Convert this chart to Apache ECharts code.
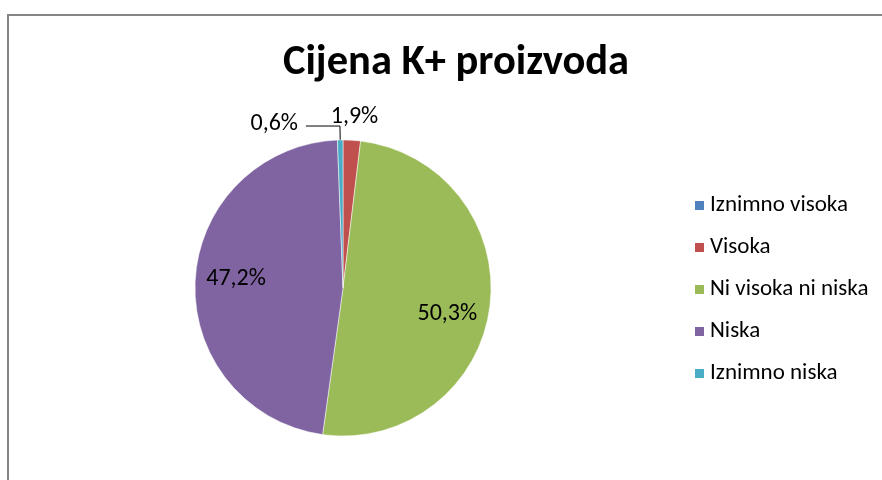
<!DOCTYPE html>
<html>
<head>
<meta charset="utf-8">
<script src="https://cdn.jsdelivr.net/npm/echarts@6/dist/echarts.min.js"></script>
<style>
  html, body { margin: 0; padding: 0; background: #fff; }
  #chart { width: 882px; height: 480px; }
</style>
</head>
<body>
<div id="chart"></div>
<script>
// survey answers, percent
const categories = ['Iznimno visoka', 'Visoka', 'Ni visoka ni niska', 'Niska', 'Iznimno niska'];
const values = [0, 1.9, 50.3, 47.2, 0.6];
const colors = ['#4F81BD', '#C0504D', '#9BBB59', '#8064A2', '#4BACC6'];

const font = 'Carlito, "Open Sans", "Liberation Sans", sans-serif';

// per-slice label placement (style only)
const labelStyles = [
  { show: false },
  { position: 'outside', offset: [-57, -8] },
  { position: 'inside', offset: [28, 16] },
  { position: 'inside', offset: [-30, -5] },
  { position: 'outside', offset: [-3, -2] }
];
const lineStyles = [
  { show: false },
  { show: false },
  { show: false },
  { show: false },
  { show: true, length: 14, length2: 34 }
];

const data = categories.map((name, i) => ({
  name: name,
  value: values[i],
  itemStyle: { color: colors[i] },
  label: labelStyles[i],
  labelLine: lineStyles[i]
}));

const chart = echarts.init(document.getElementById('chart'));
chart.setOption({
  animation: false,
  title: {
    text: 'Cijena K+ proizvoda',
    left: 451,
    top: 37,
    textAlign: 'center',
    textStyle: { fontFamily: font, fontSize: 42.5, fontWeight: 'bold', color: '#000' }
  },
  legend: {
    orient: 'vertical',
    left: 688,
    top: 189,
    itemWidth: 11,
    itemHeight: 11,
    itemGap: 19,
    icon: 'rect',
    textStyle: { fontFamily: font, fontSize: 23, color: '#000' },
    data: categories
  },
  graphic: [{
    type: 'rect',
    shape: { x: 8, y: 15, width: 900, height: 500 },
    style: { fill: 'none', stroke: '#868686', lineWidth: 2 },
    silent: true
  }],
  series: [{
    type: 'pie',
    center: [343, 288],
    radius: 148,
    startAngle: 90,
    clockwise: true,
    avoidLabelOverlap: false,
    itemStyle: { borderColor: '#fff', borderWidth: 0.5 },
    label: {
      fontFamily: font,
      fontSize: 24,
      color: '#000',
      formatter: p => p.value.toFixed(1).replace('.', ',') + '%'
    },
    labelLine: { lineStyle: { color: '#000', width: 1 } },
    data: data
  }]
});
</script>
</body>
</html>
